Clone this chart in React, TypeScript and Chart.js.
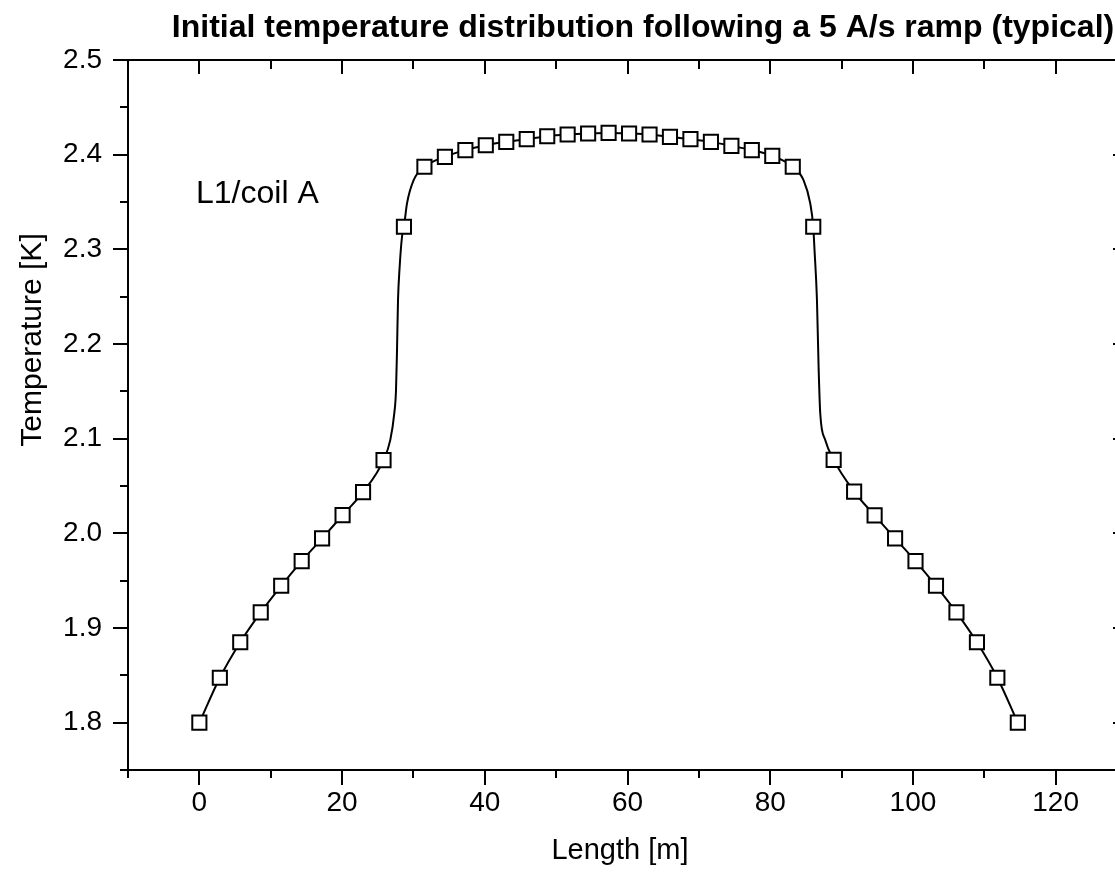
import React, { useEffect, useRef } from 'react';
import { Chart, registerables } from 'chart.js';

Chart.register(...registerables);

const TITLE = 'Initial temperature distribution following a 5 A/s ramp (typical)';
const X_TITLE = 'Length [m]';
const Y_TITLE = 'Temperature [K]';
const ANNOTATION = 'L1/coil A';

// Sampled points drawn with square markers
const MARKER_X = [
  0, 2.87, 5.73, 8.6, 11.47, 14.34, 17.2, 20.07, 22.94, 25.81,
  28.67, 31.54, 34.41, 37.28, 40.14, 43.01, 45.88, 48.75, 51.61, 54.48,
  57.35, 60.22, 63.09, 65.95, 68.82, 71.69, 74.56, 77.42, 80.29, 83.16,
  86.03, 88.89, 91.76, 94.63, 97.5, 100.36, 103.23, 106.1, 108.97, 111.83,
  114.7,
];
const MARKER_T = [
  1.8, 1.8475, 1.885, 1.9165, 1.9446, 1.9707, 1.9946, 2.0192, 2.0435, 2.0773,
  2.3238, 2.3872, 2.3977, 2.4048, 2.41, 2.4135, 2.4164, 2.4195, 2.4213, 2.4224,
  2.423, 2.4224, 2.4213, 2.4188, 2.4164, 2.4135, 2.4093, 2.4048, 2.3987, 2.3872,
  2.3238, 2.0776, 2.0441, 2.0189, 1.9946, 1.9707, 1.9446, 1.9165, 1.8849, 1.8475,
  1.8,
];

// Extra points of the continuous curve read in the steep regions
const STEEP_X = [26.76, 27.32, 27.56, 27.7, 27.84, 28.07, 28.4, 29.1, 30.03, 84.67, 85.61, 86.21, 86.55, 86.78, 87.01, 87.71];
const STEEP_T = [2.0987, 2.1269, 2.1515, 2.1937, 2.2464, 2.2816, 2.3133, 2.3485, 2.3731, 2.3731, 2.3485, 2.2992, 2.2464, 2.176, 2.1269, 2.0987];

const X_MIN = -10;
const X_MAX = 130;
const Y_MIN = 1.75;
const Y_MAX = 2.5;
const X_MAJOR_TICKS = [0, 20, 40, 60, 80, 100, 120];
const X_MINOR_TICKS = [-10, 10, 30, 50, 70, 90, 110, 130];
const Y_MAJOR_TICKS = [1.8, 1.9, 2.0, 2.1, 2.2, 2.3, 2.4, 2.5];
const Y_MINOR_TICKS = [1.75, 1.85, 1.95, 2.05, 2.15, 2.25, 2.35, 2.45];

const FONT = '"Liberation Sans", Arial, Helvetica, sans-serif';

const markerData = MARKER_X.map((x, i) => ({ x, y: MARKER_T[i] }));
const lineData = [
  ...markerData,
  ...STEEP_X.map((x, i) => ({ x, y: STEEP_T[i] })),
].sort((a, b) => a.x - b.x);

const framePlugin = {
  id: 'frameTicks',
  afterDatasetsDraw(chart: any) {
    const { ctx, chartArea: a, scales } = chart;
    const xs = scales.x;
    const ys = scales.y;
    ctx.save();
    ctx.strokeStyle = '#000';
    ctx.lineWidth = 2;
    ctx.strokeRect(a.left, a.top, a.right - a.left, a.bottom - a.top);
    ctx.beginPath();
    for (const v of X_MAJOR_TICKS) {
      const p = Math.round(xs.getPixelForValue(v));
      ctx.moveTo(p, a.bottom); ctx.lineTo(p, a.bottom + 15);
      ctx.moveTo(p, a.top); ctx.lineTo(p, a.top + 14);
    }
    for (const v of X_MINOR_TICKS) {
      const p = Math.round(xs.getPixelForValue(v));
      ctx.moveTo(p, a.bottom); ctx.lineTo(p, a.bottom + 8);
      ctx.moveTo(p, a.top); ctx.lineTo(p, a.top + 9);
    }
    for (const v of Y_MAJOR_TICKS) {
      const p = Math.round(ys.getPixelForValue(v));
      ctx.moveTo(a.left, p); ctx.lineTo(a.left - 15, p);
      ctx.moveTo(a.right, p); ctx.lineTo(a.right - 14, p);
    }
    for (const v of Y_MINOR_TICKS) {
      const p = Math.round(ys.getPixelForValue(v));
      ctx.moveTo(a.left, p); ctx.lineTo(a.left - 8, p);
      ctx.moveTo(a.right, p); ctx.lineTo(a.right - 8, p);
    }
    ctx.stroke();
    ctx.restore();
  },
  afterDraw(chart: any) {
    const { ctx } = chart;
    ctx.save();
    ctx.fillStyle = '#000';
    ctx.textBaseline = 'alphabetic';
    ctx.textAlign = 'center';
    ctx.font = `bold 32px ${FONT}`;
    ctx.fillText(TITLE, 643, 37);
    ctx.font = `29px ${FONT}`;
    ctx.fillText(X_TITLE, 620, 859);
    ctx.save();
    ctx.translate(41, 340);
    ctx.rotate(-Math.PI / 2);
    ctx.font = `30px ${FONT}`;
    ctx.fillText(Y_TITLE, 0, 0);
    ctx.restore();
    ctx.textAlign = 'left';
    ctx.font = `32px ${FONT}`;
    ctx.fillText(ANNOTATION, 196, 203);
    ctx.restore();
  },
};

export default function App() {
  const ref = useRef<HTMLCanvasElement | null>(null);
  useEffect(() => {
    if (!ref.current) return;
    Chart.defaults.font.family = FONT;
    Chart.defaults.color = '#000';
    const chart = new Chart(ref.current, {
      type: 'scatter',
      data: {
        datasets: [
          {
            label: 'markers',
            data: markerData,
            showLine: false,
            pointStyle: 'rect',
            pointRadius: 10,
            pointHoverRadius: 10,
            pointBackgroundColor: '#fff',
            pointBorderColor: '#000',
            pointBorderWidth: 2,
          },
          {
            label: 'curve',
            data: lineData,
            showLine: true,
            pointRadius: 0,
            borderColor: '#000',
            borderWidth: 2,
            cubicInterpolationMode: 'monotone',
          },
        ],
      },
      options: {
        responsive: false,
        animation: false,
        events: [],
        layout: { padding: { left: 0, top: 60, right: 13, bottom: 0 } },
        plugins: {
          legend: { display: false },
          title: { display: false },
          tooltip: { enabled: false },
        },
        scales: {
          x: {
            type: 'linear',
            position: 'bottom',
            min: X_MIN,
            max: X_MAX,
            afterBuildTicks: (s: any) => { s.ticks = X_MAJOR_TICKS.map((v) => ({ value: v })); },
            afterFit: (s: any) => { s.height = 104; },
            grid: { display: false, drawTicks: false, tickLength: 0 },
            border: { display: false },
            ticks: {
              padding: 16,
              maxRotation: 0,
              autoSkip: false,
              font: { size: 28 },
              color: '#000',
              callback: (v: any) => String(v),
            },
            title: { display: false },
          },
          y: {
            type: 'linear',
            position: 'left',
            min: Y_MIN,
            max: Y_MAX,
            afterBuildTicks: (s: any) => { s.ticks = Y_MAJOR_TICKS.map((v) => ({ value: v })); },
            afterFit: (s: any) => { s.width = 128; },
            grid: { display: false, drawTicks: false, tickLength: 0 },
            border: { display: false },
            ticks: {
              padding: 26,
              autoSkip: false,
              font: { size: 28 },
              color: '#000',
              callback: (v: any) => Number(v).toFixed(1),
            },
            title: { display: false },
          },
        },
      },
      plugins: [framePlugin],
    } as any);
    return () => chart.destroy();
  }, []);
  return (
    <div
      style={{
        position: 'absolute',
        left: 0,
        top: 0,
        width: 1115,
        height: 874,
        overflow: 'hidden',
        background: '#fff',
      }}
    >
      <canvas ref={ref} width={1140} height={874} style={{ display: 'block', width: 1140, height: 874 }} />
    </div>
  );
}
